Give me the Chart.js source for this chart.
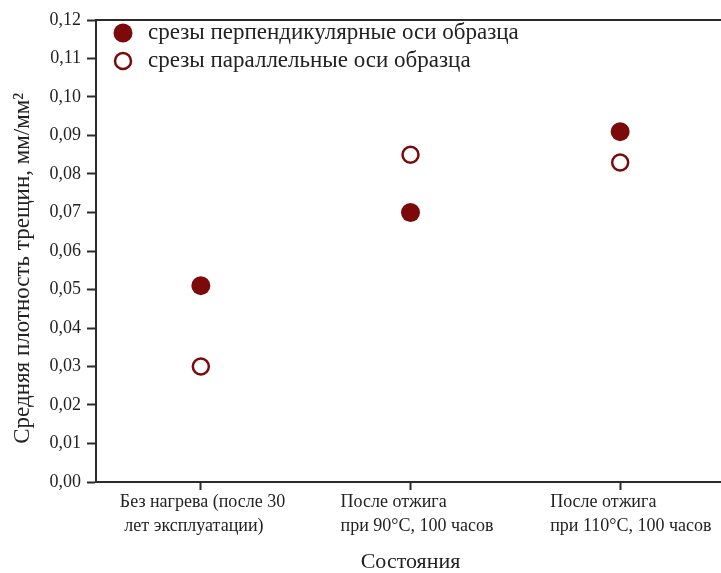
<!DOCTYPE html>
<html lang="ru">
<head>
  <meta charset="UTF-8">
  <title>Средняя плотность трещин</title>
  <script src="https://cdn.jsdelivr.net/npm/chart.js"></script>
  <style>
    html, body { margin: 0; padding: 0; background: #fff; overflow: hidden; }
    canvas { display: block; }
  </style>
</head>
<body>
  <canvas id="densityChart" width="740" height="573"></canvas>

  <script>
    // состояния образца (подписи по оси X)
    const states = [
      ['Без нагрева (после 30', ' лет эксплуатации)'],
      ['После отжига', 'при 90°С, 100 часов'],
      ['После отжига', 'при 110°С, 100 часов']
    ];
    // средняя плотность трещин, мм/мм²
    const perpendicular = [0.051, 0.070, 0.091];
    const parallel = [0.030, 0.085, 0.083];
    const seriesNames = ['срезы перпендикулярные оси образца', 'срезы параллельные оси образца'];
    const yTicks = [0, 0.01, 0.02, 0.03, 0.04, 0.05, 0.06, 0.07, 0.08, 0.09, 0.10, 0.11, 0.12];

    const markerColor = '#7d0a0a';
    const axisColor = '#2b2b2b';
    const serif = "'Liberation Serif', 'Times New Roman', serif";

    Chart.defaults.font.family = serif;
    Chart.defaults.color = axisColor;

    // рамка сверху и легенда внутри области построения
    const framePlugin = {
      id: 'frameAndLegend',
      beforeDraw(chart) {
        // первая подпись по X начинается чуть левее остальных
        const items = chart.scales.x.getLabelItems();
        if (items.length && !items[0].shifted) {
          items[0].options.translation[0] -= 11;
          items[0].shifted = true;
        }
      },
      afterDraw(chart) {
        const { ctx, chartArea } = chart;
        ctx.save();
        ctx.strokeStyle = axisColor;
        ctx.lineWidth = 2;
        ctx.beginPath();
        ctx.moveTo(chartArea.left, chartArea.top);
        ctx.lineTo(chartArea.right, chartArea.top);
        ctx.stroke();

        ctx.font = '23px ' + serif;
        ctx.textBaseline = 'middle';
        ctx.textAlign = 'left';
        chart.data.datasets.forEach((ds, i) => {
          const cx = chartArea.left + 27;
          const cy = chartArea.top + 13 + i * 28;
          ctx.beginPath();
          ctx.arc(cx, cy, ds.legendRadius, 0, Math.PI * 2);
          ctx.fillStyle = ds.pointBackgroundColor;
          ctx.fill();
          if (ds.pointBorderWidth) {
            ctx.lineWidth = ds.pointBorderWidth;
            ctx.strokeStyle = ds.pointBorderColor;
            ctx.stroke();
          }
          ctx.fillStyle = '#222';
          ctx.fillText(ds.label, chartArea.left + 52, cy);
        });
        ctx.restore();
      }
    };

    new Chart(document.getElementById('densityChart'), {
      type: 'line',
      data: {
        labels: states,
        datasets: [
          {
            label: seriesNames[0],
            data: perpendicular,
            showLine: false,
            pointRadius: 9.5,
            pointHoverRadius: 9.5,
            pointBorderWidth: 0,
            pointBackgroundColor: markerColor,
            pointBorderColor: markerColor,
            legendRadius: 9.5
          },
          {
            label: seriesNames[1],
            data: parallel,
            showLine: false,
            pointRadius: 8,
            pointHoverRadius: 8,
            pointBorderWidth: 2.5,
            pointBackgroundColor: '#ffffff',
            pointBorderColor: markerColor,
            legendRadius: 8
          }
        ]
      },
      options: {
        responsive: false,
        devicePixelRatio: 1,
        animation: false,
        layout: { padding: { top: 20, right: 15, left: 0, bottom: 0 } },
        plugins: {
          legend: { display: false },
          tooltip: { enabled: false }
        },
        scales: {
          x: {
            offset: true,
            afterFit: s => {
              s.height = 91;
              // подписи выходят за край, отступы под них не нужны
              s.paddingLeft = 0;
              s.paddingRight = 0;
            },
            grid: {
              drawOnChartArea: false,
              tickLength: 8,
              tickWidth: 2,
              color: axisColor,
              offset: false
            },
            border: { color: axisColor, width: 2 },
            ticks: {
              font: { size: 18, lineHeight: 1.3 },
              color: '#222',
              padding: 1,
              maxRotation: 0,
              align: 'start',
              labelOffset: -70
            },
            title: {
              display: true,
              text: 'Состояния',
              font: { size: 22, lineHeight: 1.0 },
              color: '#222',
              padding: { top: 0, bottom: 0 }
            }
          },
          y: {
            min: 0,
            max: 0.12,
            afterFit: s => { s.width = 96; },
            afterBuildTicks: s => { s.ticks = yTicks.map(v => ({ value: v })); },
            grid: {
              drawOnChartArea: false,
              tickLength: 9,
              tickWidth: 2,
              color: axisColor
            },
            border: { color: axisColor, width: 2 },
            ticks: {
              font: { size: 18 },
              color: '#222',
              padding: 6,
              callback: v => v.toFixed(2).replace('.', ',')
            },
            title: {
              display: true,
              // хвостовые пробелы сдвигают повёрнутую подпись немного вниз
              text: 'Средняя плотность трещин, мм/мм²      ',
              font: { size: 23 },
              color: '#222',
              padding: { top: 9, bottom: 0 }
            }
          }
        }
      },
      plugins: [framePlugin]
    });
  </script>
</body>
</html>
